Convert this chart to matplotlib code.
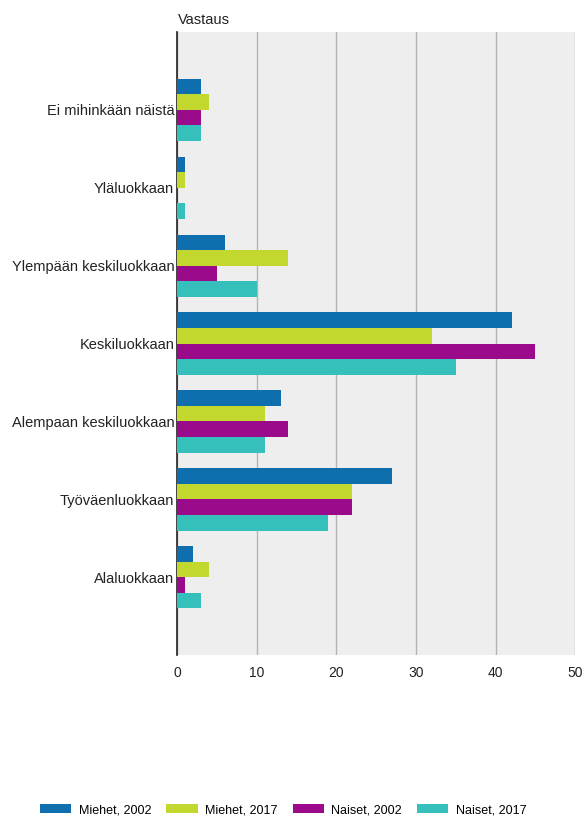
import numpy as np
import matplotlib
matplotlib.use('Agg')
import matplotlib.pyplot as plt

plt.rcParams['font.family'] = ['Liberation Sans', 'DejaVu Sans']

categories = ['Ei mihinkään näistä', 'Yläluokkaan', 'Ylempään keskiluokkaan',
              'Keskiluokkaan', 'Alempaan keskiluokkaan', 'Työväenluokkaan', 'Alaluokkaan']
series = ['Miehet, 2002', 'Miehet, 2017', 'Naiset, 2002', 'Naiset, 2017']
miehet_2002 = [3, 1, 6, 42, 13, 27, 2]
miehet_2017 = [4, 1, 14, 32, 11, 22, 4]
naiset_2002 = [3, 0, 5, 45, 14, 22, 1]
naiset_2017 = [3, 1, 10, 35, 11, 19, 3]
values = [miehet_2002, miehet_2017, naiset_2002, naiset_2017]
colors = ['#0f6fae', '#c3d82f', '#9c0a8c', '#36c0bb']

fig = plt.figure(figsize=(5.84, 8.19), dpi=100)
ax = fig.add_axes([0.303, 0.2, 0.682, 0.761])
ax.set_facecolor('#eeeeee')

y = np.arange(len(categories))
h = 0.2
for i, (vals, s, c) in enumerate(zip(values, series, colors)):
    ax.barh(y - 0.3 + i * h, vals, height=h, color=c, label=s, zorder=3)

ax.set_xlim(0, 50)
ax.set_ylim(7, -1)
ax.set_xticks([0, 10, 20, 30, 40, 50])
ax.set_yticks(y)
ax.set_yticklabels(categories)
ax.xaxis.grid(True, color='#b4b4b4', linewidth=1, zorder=1)
ax.tick_params(axis='both', length=0, colors='#222222')
ax.tick_params(axis='y', labelsize=10.5, pad=2)
ax.tick_params(axis='x', labelsize=10, pad=8)
for side in ['top', 'right', 'bottom']:
    ax.spines[side].set_visible(False)
ax.spines['left'].set_color('#222222')
ax.spines['left'].set_linewidth(1.2)

ax.text(0.002, 1.008, 'Vastaus', transform=ax.transAxes, fontsize=10.5,
        color='#222222', ha='left', va='bottom')

fig.legend(loc='center', bbox_to_anchor=(0.485, 0.011), ncol=4, frameon=False,
           fontsize=9, handlelength=2.5, handleheight=0.8, columnspacing=1.2,
           handletextpad=0.6)

fig.savefig('out.png', dpi=100)
